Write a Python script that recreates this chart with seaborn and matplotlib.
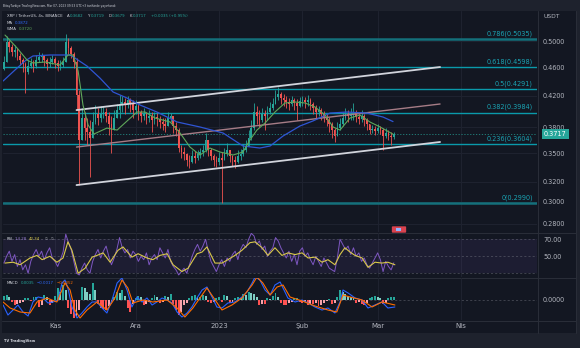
import numpy as np
import matplotlib
matplotlib.use("Agg")
import matplotlib.pyplot as plt
import seaborn as sns
from matplotlib.patches import Rectangle, FancyBboxPatch
from matplotlib.ticker import FixedLocator, FixedFormatter, NullLocator

# ------------------------------------------------------------------ data
# x axis: days counted from 2022-11-01 (Kas)
candle_first_day = -19
first_open = 0.4580
close = [0.4678, 0.4984, 0.4906, 0.4829, 0.4859, 0.4768, 0.4707, 0.4648, 0.4531, 0.4618,
         0.4663, 0.4618, 0.4707, 0.4753, 0.4768, 0.4707, 0.4648, 0.4678, 0.4722, 0.4663,
         0.4618, 0.4633, 0.4678, 0.4984, 0.4890, 0.4798, 0.4678, 0.4212, 0.3652, 0.3916,
         0.3793, 0.3745, 0.3675, 0.3867, 0.3966, 0.3916, 0.3966, 0.3991, 0.3941, 0.3842,
         0.3769, 0.3916, 0.4016, 0.4094, 0.4120, 0.4081, 0.4146, 0.4094, 0.4016, 0.4068,
         0.3991, 0.3941, 0.3966, 0.3916, 0.3941, 0.3891, 0.3928, 0.3903, 0.3867, 0.3842,
         0.3818, 0.3916, 0.3941, 0.3818, 0.3769, 0.3560, 0.3515, 0.3493, 0.3427, 0.3406,
         0.3471, 0.3449, 0.3493, 0.3515, 0.3537, 0.3652, 0.3537, 0.3471, 0.3427, 0.3406,
         0.3449, 0.3427, 0.3493, 0.3537, 0.3471, 0.3427, 0.3406, 0.3471, 0.3493, 0.3537,
         0.3583, 0.3675, 0.3793, 0.3991, 0.3941, 0.3891, 0.3966, 0.3941, 0.3991, 0.4042,
         0.4094, 0.4186, 0.4226, 0.4172, 0.4146, 0.4120, 0.4094, 0.4146, 0.4107, 0.4068,
         0.4133, 0.4146, 0.4120, 0.4146, 0.4094, 0.4042, 0.3991, 0.4016, 0.3966, 0.3916,
         0.3891, 0.3842, 0.3769, 0.3698, 0.3793, 0.3842, 0.3916, 0.3966, 0.3941, 0.3966,
         0.3978, 0.3928, 0.3903, 0.3941, 0.3891, 0.3842, 0.3769, 0.3781, 0.3757, 0.3793,
         0.3769, 0.3698, 0.3734, 0.3698, 0.3682, 0.3717]
high = [0.4768, 0.5080, 0.5016, 0.4953, 0.4937, 0.4890, 0.4814, 0.4738, 0.4678, 0.4707,
        0.4738, 0.4707, 0.4783, 0.4829, 0.4814, 0.4783, 0.4738, 0.4753, 0.4783, 0.4753,
        0.4707, 0.4707, 0.4753, 0.5112, 0.5048, 0.4921, 0.4829, 0.4738, 0.4280, 0.4042,
        0.3991, 0.3916, 0.3891, 0.3991, 0.4081, 0.4042, 0.4068, 0.4068, 0.4042, 0.3991,
        0.3941, 0.4016, 0.4094, 0.4212, 0.4199, 0.4172, 0.4199, 0.4172, 0.4146, 0.4146,
        0.4094, 0.4016, 0.4042, 0.3991, 0.4016, 0.3991, 0.3991, 0.3978, 0.3941, 0.3916,
        0.3916, 0.3991, 0.3978, 0.3916, 0.3867, 0.3793, 0.3594, 0.3571, 0.3504, 0.3482,
        0.3537, 0.3526, 0.3537, 0.3560, 0.3594, 0.3734, 0.3629, 0.3560, 0.3493, 0.3471,
        0.3515, 0.3515, 0.3560, 0.3617, 0.3537, 0.3482, 0.3471, 0.3537, 0.3549, 0.3606,
        0.3652, 0.3769, 0.3891, 0.4107, 0.4068, 0.4016, 0.4042, 0.4016, 0.4068, 0.4120,
        0.4172, 0.4280, 0.4321, 0.4253, 0.4226, 0.4199, 0.4172, 0.4199, 0.4172, 0.4159,
        0.4186, 0.4199, 0.4186, 0.4212, 0.4172, 0.4120, 0.4081, 0.4068, 0.4042, 0.4003,
        0.3966, 0.3928, 0.3867, 0.3793, 0.3867, 0.3916, 0.3991, 0.4042, 0.4016, 0.4042,
        0.4107, 0.4016, 0.3991, 0.4016, 0.3966, 0.3916, 0.3842, 0.3830, 0.3818, 0.3842,
        0.3818, 0.3793, 0.3793, 0.3769, 0.3745, 0.3745]
low = [0.4560, 0.4707, 0.4829, 0.4768, 0.4753, 0.4707, 0.4633, 0.4531, 0.4239, 0.4502,
       0.4589, 0.4531, 0.4589, 0.4678, 0.4678, 0.4618, 0.4560, 0.4604, 0.4648, 0.4589,
       0.4546, 0.4560, 0.4604, 0.4707, 0.4798, 0.4738, 0.4589, 0.4016, 0.3165, 0.3652,
       0.3652, 0.3594, 0.3247, 0.3769, 0.3842, 0.3830, 0.3867, 0.3916, 0.3867, 0.3710,
       0.3504, 0.3793, 0.3916, 0.3916, 0.3991, 0.3966, 0.4042, 0.3991, 0.3916, 0.3966,
       0.3891, 0.3867, 0.3891, 0.3842, 0.3867, 0.3745, 0.3842, 0.3818, 0.3793, 0.3769,
       0.3745, 0.3818, 0.3867, 0.3734, 0.3698, 0.3515, 0.3449, 0.3427, 0.3362, 0.3341,
       0.3395, 0.3395, 0.3427, 0.3449, 0.3471, 0.3515, 0.3471, 0.3427, 0.3362, 0.3352,
       0.3373, 0.2990, 0.3427, 0.3471, 0.3406, 0.3362, 0.3341, 0.3395, 0.3427, 0.3471,
       0.3515, 0.3583, 0.3652, 0.3769, 0.3842, 0.3806, 0.3867, 0.3769, 0.3891, 0.3966,
       0.4016, 0.4094, 0.4146, 0.4094, 0.4068, 0.4042, 0.4016, 0.4068, 0.4016, 0.3891,
       0.4055, 0.4068, 0.4042, 0.4068, 0.4016, 0.3966, 0.3916, 0.3941, 0.3891, 0.3867,
       0.3818, 0.3745, 0.3675, 0.3629, 0.3698, 0.3769, 0.3818, 0.3891, 0.3867, 0.3891,
       0.3891, 0.3867, 0.3842, 0.3867, 0.3818, 0.3769, 0.3722, 0.3734, 0.3710, 0.3734,
       0.3722, 0.3537, 0.3675, 0.3652, 0.3594, 0.3660]

ma_day = [-19.3, -14.9, -11.2, -8.2, -1.9, 5.6, 7.4, 11.9, 16.7, 21.6, 26.8, 31.6, 37.9, 45.4,
          53.9, 62.5, 69.9, 76.2, 80.0, 84.8, 91.1, 95.9, 102.3, 108.6, 116.0, 122.0, 125.7]
ma_val = [0.4404, 0.4560, 0.4692, 0.4768, 0.4783, 0.4783, 0.4738, 0.4618, 0.4446, 0.4253,
          0.4172, 0.4081, 0.3991, 0.3867, 0.3806, 0.3734, 0.3583, 0.3560, 0.3583, 0.3698,
          0.3818, 0.3879, 0.3978, 0.3991, 0.3978, 0.3928, 0.3872]

wma_day = [-18.6, -14.1, -10.4, -8.2, -3.7, 1.9, 4.8, 6.7, 8.6, 10.4, 12.3, 14.5, 19.3, 23.1,
           26.8, 30.5, 33.5, 37.2, 42.8, 46.5, 50.2, 53.9, 57.6, 61.4, 66.2, 69.9, 72.5, 75.1,
           78.1, 81.8, 85.5, 89.3, 93.0, 96.7, 100.4, 103.4, 106.0, 109.7, 113.4, 117.1, 120.9, 125.7]
wma_val = [0.5096, 0.4890, 0.4707, 0.4663, 0.4678, 0.4633, 0.4783, 0.4783, 0.4546, 0.4081,
           0.3830, 0.3722, 0.3793, 0.3769, 0.3879, 0.3991, 0.3991, 0.3916, 0.3867, 0.3734,
           0.3571, 0.3482, 0.3560, 0.3515, 0.3482, 0.3515, 0.3652, 0.3769, 0.3854, 0.3991,
           0.4107, 0.4120, 0.4107, 0.4055, 0.3953, 0.3806, 0.3769, 0.3916, 0.3953, 0.3867,
           0.3806, 0.3720]

rsi = [42, 50, 56, 44, 52, 38, 46, 34, 40, 30,
       44, 52, 58, 50, 56, 46, 54, 60, 48, 44,
       38, 46, 55, 76, 66, 58, 44, 30, 28, 36,
       42, 34, 30, 44, 52, 58, 48, 56, 62, 50,
       40, 48, 58, 72, 60, 54, 58, 48, 56, 52,
       44, 50, 46, 54, 40, 48, 52, 46, 60, 54,
       48, 58, 44, 38, 34, 28, 32, 36, 30, 40,
       50, 58, 64, 56, 62, 70, 56, 44, 38, 32,
       40, 46, 38, 48, 44, 52, 56, 46, 58, 64,
       60, 70, 77, 74, 64, 68, 58, 62, 50, 56,
       60, 72, 68, 60, 54, 48, 56, 44, 52, 40,
       56, 60, 50, 54, 46, 40, 50, 44, 38, 48,
       42, 36, 34, 32, 48, 70, 64, 58, 62, 52,
       60, 50, 54, 44, 48, 40, 36, 42, 48, 54,
       46, 32, 44, 38, 34, 42.34]

rsima_day = [-18.6, -15.6, -13.0, -9.3, -6.7, -4.8, -1.9, 0.7, 3.0, 4.8, 6.3, 8.6, 11.2, 13.8,
             15.6, 17.9, 20.5, 23.4, 25.3, 28.6, 30.9, 34.2, 36.4, 39.0, 41.7, 43.9, 47.2, 49.5,
             52.8, 54.7, 56.5, 59.5, 62.1, 64.3, 66.9, 69.5, 72.5, 74.4, 77.0, 79.2, 81.8, 84.4,
             86.6, 89.3, 91.9, 94.1, 96.7, 99.3, 101.5, 104.1, 106.0, 107.8, 109.7, 111.6, 114.2,
             116.4, 119.0, 121.6, 123.8, 126.4]
rsima_val = [42, 43, 40, 48, 51, 46, 50, 43, 48, 67, 57, 30, 36, 49,
             51, 54, 43, 57, 61, 49, 53, 48, 46, 51, 53, 40, 32, 36,
             53, 55, 61, 42, 42, 46, 51, 57, 66, 67, 60, 51, 60, 51,
             54, 52, 54, 48, 49, 43, 46, 40, 52, 60, 55, 51, 48,
             37, 43, 42, 43, 40]

macd_day = [-19.3, -17.5, -15.6, -13.8, -11.9, -10.0, -8.2, -6.3, -4.5, -2.6,
            -0.7, 1.1, 2.6, 3.7, 4.8, 6.3, 8.2, 10.0, 11.9, 13.8,
            15.6, 17.5, 19.3, 21.2, 23.1, 24.9, 26.8, 28.6, 30.5, 32.4,
            34.2, 36.1, 37.9, 39.8, 41.7, 43.5, 45.4, 47.2, 49.1, 50.9,
            52.8, 54.7, 56.5, 58.4, 60.2, 62.1, 64.3, 66.9, 69.5, 71.4,
            73.3, 74.4, 76.2, 78.1, 80.0, 81.8, 83.7, 84.8, 86.6, 89.3,
            91.9, 94.1, 96.7, 99.3, 101.5, 104.1, 106.0, 107.1, 109.0, 111.6,
            114.2, 116.4, 119.0, 121.6, 123.8, 126.4]
macd_val = [-0.0025, -0.0075, -0.0050, -0.0025, -0.0060, -0.0080, -0.0010, 0.0015, 0.0010, -0.0015,
            -0.0010, 0.0000, 0.0085, 0.0100, 0.0060, -0.0035, -0.0090, -0.0065, -0.0035, -0.0010,
            -0.0010, -0.0040, -0.0065, 0.0000, 0.0085, 0.0110, 0.0050, -0.0035, 0.0015, -0.0010,
            0.0010, -0.0025, -0.0010, 0.0010, 0.0000, -0.0015, -0.0060, -0.0085, -0.0065, -0.0035,
            0.0010, 0.0050, 0.0065, 0.0015, -0.0035, -0.0040, -0.0015, -0.0010, 0.0015, 0.0040,
            0.0085, 0.0115, 0.0100, 0.0050, 0.0025, 0.0075, 0.0090, 0.0060, 0.0010, -0.0010,
            0.0000, -0.0015, -0.0035, -0.0050, -0.0040, -0.0065, -0.0010, 0.0050, 0.0035, 0.0010,
            0.0000, -0.0040, -0.0025, -0.0010, -0.0040, -0.0035]

signal_day = [-19.3, -16.7, -13.0, -9.3, -6.7, -3.0, 0.7, 3.7, 5.6, 7.4,
              9.3, 11.9, 15.6, 19.3, 22.3, 24.9, 27.1, 29.0, 32.7, 36.4,
              41.7, 45.4, 48.3, 51.3, 53.9, 56.5, 58.8, 62.1, 65.8, 69.5,
              73.3, 75.1, 77.3, 80.0, 82.6, 84.8, 87.4, 91.9, 96.7, 101.5,
              104.8, 107.1, 109.7, 114.2, 117.9, 121.6, 126.4]
signal_val = [-0.0010, -0.0040, -0.0060, -0.0065, -0.0010, 0.0010, -0.0010, 0.0085, 0.0050, -0.0050,
              -0.0090, -0.0050, -0.0010, -0.0050, 0.0010, 0.0100, 0.0060, -0.0015, 0.0000, -0.0010,
              0.0000, -0.0040, -0.0085, -0.0040, 0.0010, 0.0060, 0.0015, -0.0050, -0.0025, 0.0010,
              0.0075, 0.0115, 0.0085, 0.0025, 0.0065, 0.0075, 0.0015, -0.0005, -0.0030, -0.0050,
              -0.0060, 0.0025, 0.0015, 0.0000, -0.0035, -0.0010, -0.0025]

hist = [0.0020, 0.0025, 0.0015, -0.0010, -0.0025, -0.0020, -0.0015, -0.0010, 0.0010, 0.0010,
        -0.0005, 0.0015, 0.0015, -0.0035, -0.0025, 0.0025, 0.0015, -0.0025, -0.0015, 0.0020,
        0.0060, 0.0040, 0.0075, 0.0050, -0.0040, -0.0070, -0.0090, -0.0080, -0.0050, 0.0065,
        0.0060, 0.0040, 0.0030, 0.0085, 0.0050, -0.0020, -0.0040, -0.0045, -0.0050, -0.0030,
        -0.0010, 0.0015, 0.0040, 0.0035, 0.0050, 0.0020, -0.0040, -0.0060, -0.0020, 0.0010,
        0.0020, 0.0015, -0.0025, -0.0020, -0.0010, 0.0010, 0.0025, 0.0015, -0.0015, -0.0010,
        0.0020, 0.0015, 0.0030, -0.0020, -0.0050, -0.0075, -0.0060, -0.0025, -0.0015, 0.0010,
        0.0020, 0.0025, 0.0015, 0.0015, 0.0025, 0.0020, -0.0010, -0.0015, -0.0010, 0.0010,
        0.0015, -0.0010, 0.0025, 0.0020, -0.0015, -0.0010, 0.0010, 0.0015, 0.0010, 0.0030,
        0.0025, 0.0040, 0.0035, 0.0030, 0.0015, -0.0025, -0.0020, -0.0020, 0.0010, 0.0005,
        0.0020, 0.0035, 0.0015, -0.0015, -0.0025, -0.0025, -0.0015, -0.0010, 0.0010, 0.0010,
        -0.0010, -0.0015, -0.0010, -0.0025, -0.0020, -0.0020, -0.0015, -0.0030, -0.0025, -0.0015,
        -0.0005, 0.0005, -0.0020, -0.0015, 0.0015, 0.0050, 0.0040, 0.0030, 0.0020, 0.0015,
        0.0010, -0.0015, -0.0010, -0.0020, -0.0025, -0.0015, 0.0010, 0.0015, 0.0020, 0.0015,
        0.0010, -0.0020, -0.0015, 0.0010, 0.0015, 0.0015]

fib_ratio = ["0.786", "0.618", "0.5", "0.382", "0.236", "0"]
fib_price = [0.5035, 0.4598, 0.4291, 0.3984, 0.3604, 0.2990]

chan_day = [8.0, 143.2]
chan_upper = [0.4016, 0.4604]
chan_middle = [0.3571, 0.4094]
chan_lower = [0.3165, 0.3629]

last_price = 0.3717
month_day = [0, 30, 61, 92, 120, 151]
month_lbl = ["Kas", "Ara", "2023", "Şub", "Mar", "Nis"]
price_ticks = [0.28, 0.30, 0.32, 0.35, 0.38, 0.42, 0.46, 0.50]
price_lbls = ["0.2800", "0.3000", "0.3200", "0.3500", "0.3800", "0.4200", "0.4600", "0.5000"]
rsi_ticks = [70, 50]
rsi_lbls = ["70.00", "50.00"]

# ------------------------------------------------------------------ style
BG = "#131722"
FRAME = "#1e222d"
GRID = "#1f2330"
SEP = "#2a2e39"
TXT = "#b2b5be"
UP, DOWN = "#26a69a", "#ef5350"
FIBC, FIBDARK = "#0a9aab", "#14707b"

sns.set_theme(style="dark")
plt.rcParams.update({"font.family": ["DejaVu Sans"], "axes.facecolor": "none",
                     "figure.facecolor": FRAME})

W, H = 580, 348
fig = plt.figure(figsize=(W / 100, H / 100), dpi=100)


def rect(x0, y0, x1, y1):
    return [x0 / W, 1 - y1 / H, (x1 - x0) / W, (y1 - y0) / H]


def fx(x):
    return x / W


def fy(y):
    return 1 - y / H


fig.patches.append(Rectangle((fx(2), fy(333)), 574 / W, 322 / H, transform=fig.transFigure,
                             facecolor=BG, edgecolor="none", zorder=-5))

xlim = (-19.34, 179.25)
ax_p = fig.add_axes(rect(3, 11, 537, 232))
ax_r = fig.add_axes(rect(3, 233, 537, 277))
ax_m = fig.add_axes(rect(3, 278, 537, 320))

for ax in (ax_p, ax_r, ax_m):
    ax.set_facecolor("none")
    ax.patch.set_alpha(0)
    ax.grid(False)
    for s in ax.spines.values():
        s.set_visible(False)
    ax.set_xlim(*xlim)
    for d in month_day:
        ax.axvline(d, color=GRID, lw=0.7, zorder=0)
    ax.yaxis.tick_right()
    ax.tick_params(axis="both", which="both", length=0, labelsize=4.7, labelcolor=TXT, pad=4.3)

# ------------------------------------------------------------------ price pane
ax_p.set_yscale("log")
ax_p.set_ylim(0.2727, 0.5500)
ax_p.yaxis.set_major_locator(FixedLocator(price_ticks))
ax_p.yaxis.set_major_formatter(FixedFormatter(price_lbls))
ax_p.yaxis.set_minor_locator(NullLocator())
ax_p.set_xticks([])
for t in price_ticks:
    ax_p.axhline(t, color=GRID, lw=0.7, zorder=0)

c = np.array(close)
o = np.r_[first_open, c[:-1]]
hi = np.maximum(np.array(high), np.maximum(o, c))
lo = np.minimum(np.array(low), np.minimum(o, c))
days = np.arange(candle_first_day, candle_first_day + len(c))
cols = np.where(c >= o, UP, DOWN)
ax_p.vlines(days, lo, hi, colors=cols, lw=0.6, zorder=3)
ax_p.bar(days, np.maximum(np.abs(c - o), 0.0006), bottom=np.minimum(o, c), width=0.62,
         color=cols, linewidth=0, zorder=4)

for r, p in zip(fib_ratio, fib_price):
    dark = r in ("0.786", "0")
    ax_p.axhline(p, color=FIBDARK if dark else FIBC, lw=1.8 if dark else 1.0, zorder=2)
    ax_p.annotate(f"{r}({p:.4f})", xy=(1, p), xycoords=("axes fraction", "data"),
                  xytext=(-3, 1.6), textcoords="offset points", ha="right", va="bottom",
                  fontsize=4.7, color="#1aa3b3")

ax_p.plot(chan_day, chan_upper, color="#d1d4dc", lw=1.3, zorder=5)
ax_p.plot(chan_day, chan_lower, color="#d1d4dc", lw=1.3, zorder=5)
ax_p.plot(chan_day, chan_middle, color="#a67c86", lw=1.0, zorder=5)

sns.lineplot(x=ma_day, y=ma_val, ax=ax_p, color="#2f55d4", lw=0.9, sort=False,
             estimator=None, legend=False, zorder=6)
sns.lineplot(x=wma_day, y=wma_val, ax=ax_p, color="#5fa85a", lw=0.8, sort=False,
             estimator=None, legend=False, zorder=6)
ax_p.set_xlabel("")
ax_p.set_ylabel("")

ax_p.axhline(last_price, color=UP, lw=0.6, ls=(0, (1.5, 2)), alpha=0.8, zorder=2)
ax_p.annotate(f"{last_price:.4f}", xy=(1, last_price), xycoords=("axes fraction", "data"),
              xytext=(5, 0), textcoords="offset points", ha="left", va="center",
              fontsize=4.7, color="white", annotation_clip=False,
              bbox=dict(boxstyle="square,pad=0.3", fc=UP, ec="none"))

# ------------------------------------------------------------------ RSI pane
ax_r.set_ylim(25.6, 77.4)
ax_r.axhspan(30, 70, color="#7e57c2", alpha=0.10, lw=0, zorder=0)
for lv in (70, 50, 30):
    ax_r.axhline(lv, color="#787b86", lw=0.5, ls=(0, (3, 3)), alpha=0.6, zorder=1)
sns.lineplot(x=days, y=rsi, ax=ax_r, color="#7e57c2", lw=0.7, sort=False,
             estimator=None, legend=False, zorder=3)
sns.lineplot(x=rsima_day, y=rsima_val, ax=ax_r, color="#d9c84a", lw=0.8, sort=False,
             estimator=None, legend=False, zorder=4)
ax_r.set_yticks(rsi_ticks)
ax_r.set_yticklabels(rsi_lbls)
ax_r.set_xticks([])
ax_r.set_xlabel("")
ax_r.set_ylabel("")

# ------------------------------------------------------------------ MACD pane
ax_m.set_ylim(-0.0100, 0.0110)
hv = np.array(hist)
prev = np.r_[hv[0], hv[:-1]]
hcols = np.where(hv >= 0, np.where(hv >= prev, "#26a69a", "#7fcdc3"),
                 np.where(hv <= prev, "#ff5252", "#f7a3ab"))
ax_m.bar(days, hv, width=0.72, color=hcols, linewidth=0, zorder=2)
ax_m.axhline(0, color="#787b86", lw=0.5, ls=(0, (3, 3)), alpha=0.6, zorder=1)
sns.lineplot(x=macd_day, y=macd_val, ax=ax_m, color="#2962ff", lw=0.8, sort=False,
             estimator=None, legend=False, zorder=3)
sns.lineplot(x=signal_day, y=signal_val, ax=ax_m, color="#ff6d00", lw=0.8, sort=False,
             estimator=None, legend=False, zorder=4)
ax_m.set_yticks([0])
ax_m.set_yticklabels(["0.0000"])
ax_m.set_xticks(month_day)
ax_m.set_xticklabels(month_lbl)
ax_m.tick_params(axis="x", pad=2.0, labelsize=5.0, labelcolor=TXT)
ax_m.set_xlabel("")
ax_m.set_ylabel("")

# ------------------------------------------------------------------ separators
for y in (232.5, 277.5, 320.5):
    fig.add_artist(plt.Line2D([fx(2), fx(576)], [fy(y), fy(y)], color=SEP, lw=0.7, zorder=-1))
fig.add_artist(plt.Line2D([fx(537.5), fx(537.5)], [fy(11), fy(333)], color=SEP, lw=0.7, zorder=-1))
fig.add_artist(plt.Line2D([fx(576), fx(576)], [fy(11), fy(333)], color=SEP, lw=0.7, zorder=-1))

# event marker near bottom of price pane
fig.patches.append(FancyBboxPatch((fx(393), fy(232)), 12 / W, 5 / H,
                                  boxstyle="round,pad=0.002", transform=fig.transFigure,
                                  facecolor="#d9434f", edgecolor="none", zorder=10))
fig.patches.append(Rectangle((fx(396), fy(231)), 5 / W, 3 / H, transform=fig.transFigure,
                             facecolor="#8fb4ff", edgecolor="none", zorder=11))

# ------------------------------------------------------------------ texts
fig.text(fx(3), fy(5.5), "BitayTurkiye TradingView.com, Mar 07, 2023 09:53 UTC+3 tarihinde yayınlandı",
         fontsize=2.1, color="#d1d4dc", va="center", ha="left")


def pieces(y, items, size=2.8):
    for txt, x, col in items:
        fig.text(fx(x), fy(y), txt, fontsize=size, color=col, va="center", ha="left")


GREY = "#d1d4dc"
TEAL = "#26a69a"
pieces(16, [("XRP / TetherUS, 4s, BINANCE", 7, GREY),
            ("A", 67, GREY), ("0.3682", 70, TEAL),
            ("Y", 88, GREY), ("0.3719", 91, TEAL),
            ("D", 109, GREY), ("0.3679", 112, TEAL),
            ("K", 130, GREY), ("0.3717", 133, TEAL),
            ("+0.0035 (+0.95%)", 151, TEAL)])
pieces(22.5, [("MA", 7, GREY), ("0.3872", 15, "#2f6bff")])
pieces(29, [("WMA", 7, GREY), ("0.3720", 19, "#5fa85a")])
pieces(239.5, [("RSI", 7, GREY), ("14 28", 15, "#9c7fd6"), ("42.34", 29, "#e0cf4d"),
               ("∅  ∅", 45, "#9598a1")])
pieces(282.5, [("MACD", 7, GREY), ("0.0035", 21, TEAL), ("−0.0017", 37, "#2f6bff"),
               ("−0.0052", 57, "#ff6d00")])

fig.text(fx(543), fy(17), "USDT", fontsize=4.3, color=TXT, va="center", ha="left")
fig.text(fx(4), fy(341), "TV TradingView", fontsize=2.6, color="#d1d4dc", va="center",
         ha="left", fontweight="bold")

fig.savefig("out.png", dpi=100, facecolor=FRAME)
